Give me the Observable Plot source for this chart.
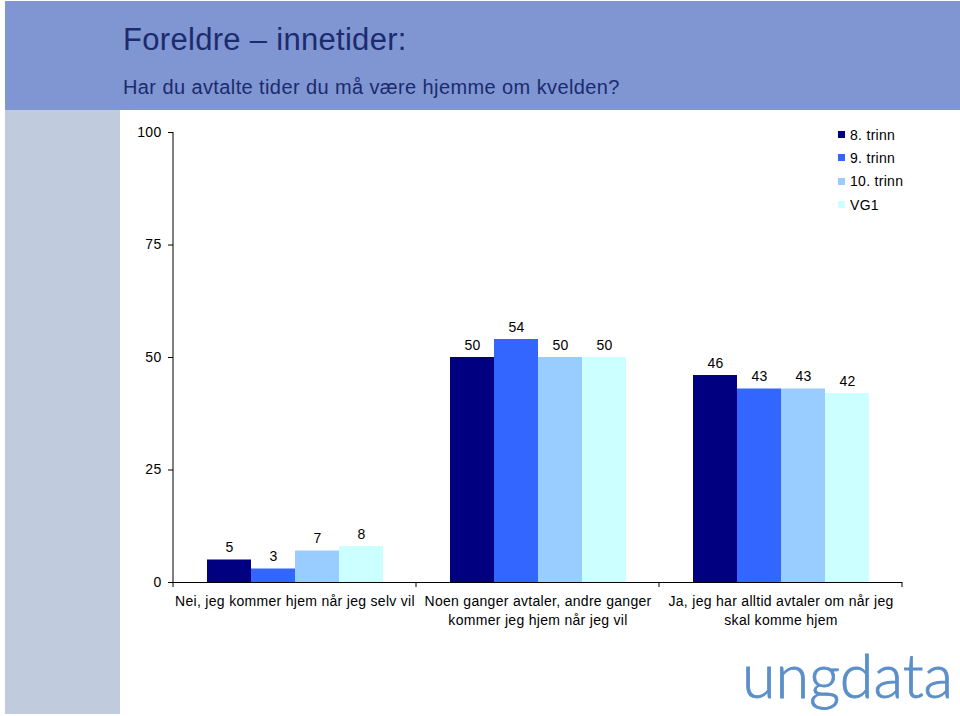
<!DOCTYPE html>
<html>
<head>
<meta charset="utf-8">
<script src="https://cdn.jsdelivr.net/npm/d3@7"></script>
<script src="https://cdn.jsdelivr.net/npm/@observablehq/plot@0.6"></script>
<style>
  body { margin: 0; background: #fff; }
  #page { position: relative; width: 960px; height: 716px; background: #fff; overflow: hidden; font-family: "Liberation Sans", Arial, sans-serif; }
  .abs { position: absolute; }
  #title { left: 123px; top: 24px; font-size: 31px; line-height: 31px; color: #1c2a6e; white-space: nowrap; letter-spacing: 0.3px; }
  #subtitle { left: 123px; top: 77px; font-size: 20px; line-height: 20px; color: #1c2a6e; white-space: nowrap; letter-spacing: 0.4px; }
  #legend { left: 838px; top: 123px; font-size: 14px; color: #000; letter-spacing: 0.3px; }
  #legend .row { height: 23.3px; display: flex; align-items: center; white-space: nowrap; }
  #legend .sw { width: 7px; height: 7px; margin-right: 5px; }
  #logo { left: 742px; top: 635px; font-family: Lato, "Open Sans", sans-serif; font-weight: 300; font-size: 61px; line-height: 80px; color: #5b8fc9; letter-spacing: 0px; -webkit-text-stroke: 0.8px #5b8fc9; }
</style>
</head>
<body>
<div id="page">
  <div class="abs" style="left:5px;top:1px;width:955px;height:109px;background:#7f96d2"></div>
  <div class="abs" style="left:5px;top:110px;width:115px;height:604px;background:#c0cbdd"></div>
  <div id="title" class="abs">Foreldre – innetider:</div>
  <div id="subtitle" class="abs">Har du avtalte tider du må være hjemme om kvelden?</div>
  <div id="chart" class="abs" style="left:120px;top:110px"></div>
  <div id="legend" class="abs"></div>
  <div id="logo" class="abs">ungdata</div>
</div>
<script>
const categories = [
  "Nei, jeg kommer hjem når jeg selv vil",
  "Noen ganger avtaler, andre ganger kommer jeg hjem når jeg vil",
  "Ja, jeg har alltid avtaler om når jeg skal komme hjem"
];
const categoryLabels = [
  "Nei, jeg kommer hjem når jeg selv vil",
  "Noen ganger avtaler, andre ganger\nkommer jeg hjem når jeg vil",
  "Ja, jeg har alltid avtaler om når jeg\nskal komme hjem"
];
const series = ["8. trinn", "9. trinn", "10. trinn", "VG1"];
const colors = ["#000080", "#3366ff", "#99ccff", "#ccffff"];
const values8 = [5, 50, 46];
const values9 = [3, 54, 43];
const values10 = [7, 50, 43];
const valuesVG1 = [8, 50, 42];
const yTicks = [0, 25, 50, 75, 100];

const seriesValues = [values8, values9, values10, valuesVG1];
const data = [];
categories.forEach((c, i) => series.forEach((s, j) => data.push({category: c, series: s, value: seriesValues[j][i]})));

const plot = Plot.plot({
  width: 840,
  height: 530,
  marginLeft: 52,
  marginTop: 22,
  marginRight: 58,
  marginBottom: 58,
  style: {background: "transparent", fontFamily: "'Liberation Sans', Arial, sans-serif", fontSize: "14px", color: "#000", letterSpacing: "0.3px"},
  fx: {domain: categories, padding: 0, label: null},
  x: {domain: series, paddingInner: 0, paddingOuter: 0.73, axis: null},
  y: {domain: [0, 100], label: null},
  color: {domain: series, range: colors},
  marks: [
    Plot.barY(data, {fx: "category", x: "series", y: "value", fill: "series"}),
    Plot.text(data, {fx: "category", x: "series", y: "value", text: "value", dy: -12, fill: "#000", fontSize: 14}),
    Plot.ruleY([0], {stroke: "#000", strokeWidth: 1}),
    Plot.axisY({ticks: yTicks, tickSize: 5, tickPadding: 7, label: null, fontSize: 14, stroke: "#000", strokeOpacity: 1}),
    Plot.axisFx({anchor: "bottom", tickSize: 0, tickPadding: 11, label: null, fontSize: 14, lineHeight: 1.3, tickFormat: (d) => categoryLabels[categories.indexOf(d)]})
  ]
});
document.getElementById("chart").appendChild(plot);

// axis line and tick marks at category boundaries, positioned through Plot's fx and y scales
const fxs = plot.scale("fx");
const ys = plot.scale("y");
const y0 = ys.apply(0);
const yTop = ys.apply(yTicks[yTicks.length - 1]);
const bounds = [fxs.apply(categories[0])].concat(categories.map(c => fxs.apply(c) + fxs.bandwidth));
const g = d3.select(plot).append("g").attr("stroke", "#000");
g.append("line").attr("x1", bounds[0]).attr("x2", bounds[0]).attr("y1", yTop).attr("y2", y0);
g.selectAll("line.b").data(bounds).join("line").attr("class", "b")
  .attr("x1", d => d).attr("x2", d => d)
  .attr("y1", y0).attr("y2", y0 + 5);

// legend
const legend = d3.select("#legend");
series.forEach((s, i) => {
  const row = legend.append("div").attr("class", "row");
  row.append("div").attr("class", "sw").style("background", colors[i]);
  row.append("span").text(s);
});
</script>
</body>
</html>
